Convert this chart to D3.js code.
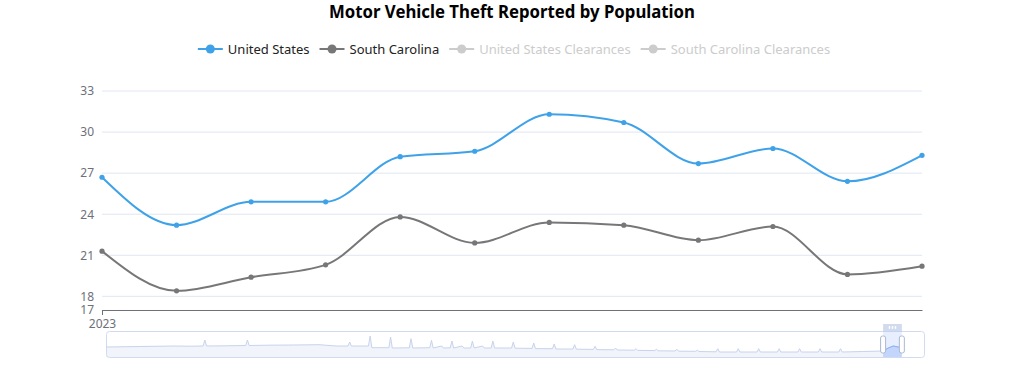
<!DOCTYPE html>
<html lang="en">
<head>
    <meta charset="utf-8">
    <title>Motor Vehicle Theft Reported by Population</title>
    <script src="https://d3js.org/d3.v7.min.js"></script>
    <style>
        body {
            margin: 0;
            background: #fff;
            font-family: "Noto Sans", sans-serif;
        }
        .axis text {
            fill: #6e7079;
            font-size: 12px;
            font-family: "Noto Sans", sans-serif;
        }
    </style>
</head>
<body>
    <svg id="chart" width="1024" height="365"></svg>

    <script>
        // Monthly values, 2023
        const months = ["2023-01", "2023-02", "2023-03", "2023-04", "2023-05", "2023-06",
                        "2023-07", "2023-08", "2023-09", "2023-10", "2023-11", "2023-12"];
        const usValues = [26.7, 23.2, 24.9, 24.9, 28.2, 28.6, 31.3, 30.7, 27.7, 28.8, 26.4, 28.3];
        const scValues = [21.3, 18.4, 19.4, 20.3, 23.8, 21.9, 23.4, 23.2, 22.1, 23.1, 19.6, 20.2];
        const yTicks = [17, 18, 21, 24, 27, 30, 33];
        const xTickLabels = ["2023"];
        const legendNames = ["United States", "South Carolina", "United States Clearances", "South Carolina Clearances"];
        const legendActive = [true, true, false, false];

        // slider data shadow: [month index since 1985-01, value]
        const shadowData = [
            [0, 10], [20, 10.5], [40, 11], [50, 10.8], [57, 11], [58, 17], [59, 11], [70, 11.2],
            [82, 11.5], [83, 17], [84, 11.5], [95, 11.8], [110, 12], [125, 12.3], [135, 11],
            [142, 11], [143, 15], [144, 11], [154, 11], [155, 21], [156, 9.3], [166, 9.3],
            [167, 20], [168, 9], [178, 9.2], [179, 18.3], [180, 9], [190, 9.3], [191, 16.7],
            [192, 9], [197, 11], [198, 9], [202, 9.2], [203, 16], [204, 9], [209, 11], [210, 9],
            [214, 9], [215, 16], [216, 9], [221, 11], [222, 9], [226, 9], [227, 16], [228, 9],
            [238, 9], [239, 15], [240, 8.8], [250, 8.6], [251, 14], [252, 8.4], [262, 8.3],
            [263, 13], [264, 8], [274, 8], [275, 12.3], [276, 7.8], [286, 7.6], [287, 10.7],
            [288, 7.4], [298, 7.2], [299, 9], [300, 7], [310, 6.8], [311, 8.3], [312, 6.6],
            [322, 6.4], [323, 7.7], [324, 6.2], [334, 6], [335, 7.7], [336, 5.8], [346, 5.7],
            [347, 6.7], [348, 5.5], [358, 5.2], [359, 8.3], [360, 5], [370, 5], [371, 8.3],
            [372, 5], [382, 5], [383, 8.3], [384, 5], [394, 5], [395, 8.3], [396, 5], [406, 5],
            [407, 8.3], [408, 5], [418, 5], [419, 8.3], [420, 5], [430, 5], [431, 8.3], [432, 5],
            [444, 5.5], [456, 6], [459, 9], [462, 11], [465, 10], [467, 8]
        ];
        const shadowMonths = 480;
        const windowMonths = [456, 467];

        const blue = "#3fa2e9", gray = "#777777", inactive = "#cccccc";
        const colors = [blue, gray, inactive, inactive];

        const svg = d3.select("#chart");

        const x = d3.scalePoint().domain(months).range([102, 922]);
        const y = d3.scaleLinear().domain([17, 33]).range([310, 91]);

        // title
        svg.append("text")
            .attr("x", 512)
            .attr("y", 18)
            .attr("text-anchor", "middle")
            .style("font-family", "'Noto Sans', sans-serif")
            .style("font-weight", "bold")
            .style("font-size", "17px")
            .style("fill", "#000")
            .attr("textLength", 366)
            .attr("lengthAdjust", "spacingAndGlyphs")
            .text("Motor Vehicle Theft Reported by Population");

        // grid lines
        svg.append("g")
            .selectAll("line")
            .data(yTicks.filter(d => d > y.domain()[0]))
            .join("line")
            .attr("x1", x.range()[0])
            .attr("x2", x.range()[1])
            .attr("y1", d => y(d))
            .attr("y2", d => y(d))
            .attr("stroke", "#e0e6f1");

        // y axis (labels only)
        const yAxis = svg.append("g")
            .attr("class", "axis")
            .attr("transform", `translate(${x.range()[0]},0)`)
            .call(d3.axisLeft(y).tickValues(yTicks).tickSize(0).tickPadding(8));
        yAxis.select(".domain").remove();
        yAxis.selectAll(".tick text")
            .filter(d => d === y.domain()[0])
            .attr("dy", "0.28em");

        // x axis
        const xAxis = svg.append("g")
            .attr("class", "axis")
            .attr("transform", `translate(0,${y.range()[0]})`)
            .call(d3.axisBottom(x)
                .tickValues([months[0]])
                .tickFormat((d, i) => xTickLabels[i])
                .tickSizeInner(5)
                .tickSizeOuter(0)
                .tickPadding(4));
        xAxis.select(".domain").attr("stroke", "#6e7079");
        xAxis.selectAll(".tick line").attr("stroke", "#6e7079");

        // series
        const line = d3.line()
            .x((d, i) => x(months[i]))
            .y(d => y(d))
            .curve(d3.curveMonotoneX);

        [[scValues, gray], [usValues, blue]].forEach(([vals, color]) => {
            svg.append("path")
                .datum(vals)
                .attr("d", line)
                .attr("fill", "none")
                .attr("stroke", color)
                .attr("stroke-width", 2);

            svg.append("g")
                .selectAll("circle")
                .data(vals)
                .join("circle")
                .attr("cx", (d, i) => x(months[i]))
                .attr("cy", d => y(d))
                .attr("r", 2.6)
                .attr("fill", color);
        });

        // legend
        const legend = svg.append("g");
        let cursor = 0;
        legendNames.forEach((name, i) => {
            const item = legend.append("g").attr("transform", `translate(${cursor},0)`);
            item.append("line")
                .attr("x1", 0).attr("x2", 25)
                .attr("y1", 0).attr("y2", 0)
                .attr("stroke", colors[i])
                .attr("stroke-width", 2);
            item.append("circle")
                .attr("cx", 12.5).attr("cy", 0)
                .attr("r", 4.5)
                .attr("fill", colors[i]);
            const label = item.append("text")
                .attr("x", 30)
                .attr("y", 0)
                .attr("dy", "0.35em")
                .style("font-size", "13px")
                .style("fill", legendActive[i] ? "#222" : inactive)
                .text(name);
            cursor += 30 + label.node().getComputedTextLength() + 10;
        });
        const legendWidth = cursor - 10;
        legend.attr("transform", `translate(${514 - legendWidth / 2},49)`);

        // data zoom slider
        const sliderTop = 331, sliderHeight = 26;
        const sx = d3.scaleLinear().domain([0, shadowMonths]).range([106, 924]);
        const sy = d3.scaleLinear().domain([0, 26]).range([sliderTop + sliderHeight, sliderTop]);

        const slider = svg.append("g");
        slider.append("rect")
            .attr("x", sx.range()[0] + 0.5)
            .attr("y", sliderTop + 0.5)
            .attr("width", sx.range()[1] - sx.range()[0])
            .attr("height", sliderHeight)
            .attr("rx", 3)
            .attr("fill", "none")
            .attr("stroke", "#d2dbee");

        const area = d3.area()
            .x(d => sx(d[0]))
            .y0(sy(0))
            .y1(d => sy(d[1]));
        const shadowLine = d3.line()
            .x(d => sx(d[0]))
            .y(d => sy(d[1]));

        slider.append("path")
            .datum(shadowData)
            .attr("d", area)
            .attr("fill", "#d2dbee")
            .attr("fill-opacity", 0.3);
        slider.append("path")
            .datum(shadowData)
            .attr("d", shadowLine)
            .attr("fill", "none")
            .attr("stroke", "#c8d3ec")
            .attr("stroke-width", 1);

        const wx0 = sx(windowMonths[0]), wx1 = sx(windowMonths[1]);
        svg.append("defs").append("clipPath")
            .attr("id", "window-clip")
            .append("rect")
            .attr("x", wx0).attr("y", sliderTop)
            .attr("width", wx1 - wx0).attr("height", sliderHeight);

        slider.append("path")
            .datum(shadowData)
            .attr("d", area)
            .attr("clip-path", "url(#window-clip)")
            .attr("fill", "#8fb0f7")
            .attr("fill-opacity", 0.3);
        slider.append("path")
            .datum(shadowData)
            .attr("d", shadowLine)
            .attr("clip-path", "url(#window-clip)")
            .attr("fill", "none")
            .attr("stroke", "#8fb0f7")
            .attr("stroke-width", 1);

        // filler
        slider.append("rect")
            .attr("x", wx0).attr("y", sliderTop)
            .attr("width", wx1 - wx0).attr("height", sliderHeight)
            .attr("fill", "rgba(135,175,255,0.2)");

        // move handle
        slider.append("rect")
            .attr("x", wx0).attr("y", sliderTop - 7)
            .attr("width", wx1 - wx0).attr("height", 7)
            .attr("fill", "#d2dbee");
        [-3, 0, 3].forEach(dx => {
            slider.append("rect")
                .attr("x", (wx0 + wx1) / 2 + dx - 0.75)
                .attr("y", sliderTop - 5)
                .attr("width", 1.5).attr("height", 3)
                .attr("rx", 0.75)
                .attr("fill", "#fff");
        });

        // handles
        [wx0, wx1].forEach(hx => {
            slider.append("rect")
                .attr("x", hx - 2.5)
                .attr("y", sliderTop + 5)
                .attr("width", 5)
                .attr("height", 17)
                .attr("rx", 2)
                .attr("fill", "#fff")
                .attr("stroke", "#acb8d1");
        });
    </script>
</body>
</html>
